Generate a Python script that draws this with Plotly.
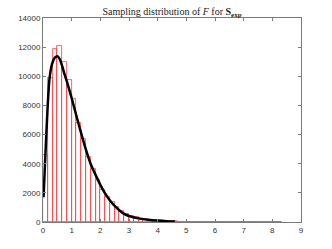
import plotly.graph_objects as go

# Histogram data (bin width ~0.1667, starting at 0)
bin_start = 0.0
bin_width = 0.1667
counts = [4600, 9850, 11850, 12080, 11000, 9720, 8420, 6770, 5700, 4480,
          3620, 2880, 2200, 1740, 1390, 1000, 780, 560, 420, 310,
          240, 180, 140, 100, 80, 60, 45, 35, 27, 20,
          15, 12, 9, 7, 5, 4, 3, 3, 2, 2,
          1, 1, 1, 1, 1, 1, 1, 1, 1, 1]

# Fitted density curve (scaled)
curve_x = [0.02, 0.07, 0.12, 0.17, 0.22, 0.28, 0.35, 0.42, 0.50, 0.58, 0.67, 0.75,
           0.84, 1.00, 1.17, 1.33, 1.50, 1.67, 1.83, 2.00, 2.17, 2.33, 2.50,
           2.67, 2.83, 3.00, 3.33, 3.67, 4.00, 4.30, 4.60]
curve_y = [1700, 4000, 6200, 8200, 9700, 10550, 11050, 11300, 11380, 11200, 10700, 10150,
           9600, 8500, 7250, 6100, 4950, 3950, 3250, 2550, 1950, 1500, 1100,
           790, 560, 410, 250, 160, 100, 60, 40]

x_ticks = [0, 1, 2, 3, 4, 5, 6, 7, 8, 9]
y_ticks = [0, 2000, 4000, 6000, 8000, 10000, 12000, 14000]

centers = [bin_start + (i + 0.5) * bin_width for i in range(len(counts))]

fig = go.Figure()
fig.add_trace(go.Bar(
    x=centers, y=counts, width=bin_width,
    marker=dict(color="rgba(255,255,255,0)", line=dict(color="#ff4040", width=0.8)),
    showlegend=False,
))
fig.add_trace(go.Scatter(
    x=curve_x, y=curve_y, mode="lines",
    line=dict(color="black", width=2.5, shape="spline", smoothing=0.6),
    showlegend=False,
))

axis_common = dict(
    showline=True, linecolor="#7a7a7a", linewidth=1, mirror="ticks",
    ticks="inside", ticklen=3, tickcolor="#7a7a7a", tickwidth=1,
    showgrid=False, zeroline=False, automargin=False,
    tickfont=dict(family="Liberation Sans, Arial, sans-serif", size=8, color="#333333"),
)

fig.update_layout(
    width=332, height=249,
    margin=dict(l=43, r=31, t=18, b=27),
    paper_bgcolor="white", plot_bgcolor="white",
    bargap=0,
    title=dict(
        text="Sampling distribution of <i>F</i> for <b>S</b><sub><b>exp</b></sub>",
        x=(43 + 301) / 2 / 332, xanchor="center", y=0.955, yanchor="middle",
        font=dict(family="Liberation Serif, DejaVu Serif, serif", size=10, color="#222222"),
    ),
    xaxis=dict(range=[0, 9], tickvals=x_ticks, ticktext=[str(v) for v in x_ticks], **axis_common),
    yaxis=dict(range=[0, 14000], tickvals=y_ticks, ticktext=[str(v) for v in y_ticks], **axis_common),
)

fig.write_html(
    "out.html",
    config={"responsive": False, "displayModeBar": False},
    post_script="document.body.style.margin='0';document.body.style.overflow='hidden';",
)
